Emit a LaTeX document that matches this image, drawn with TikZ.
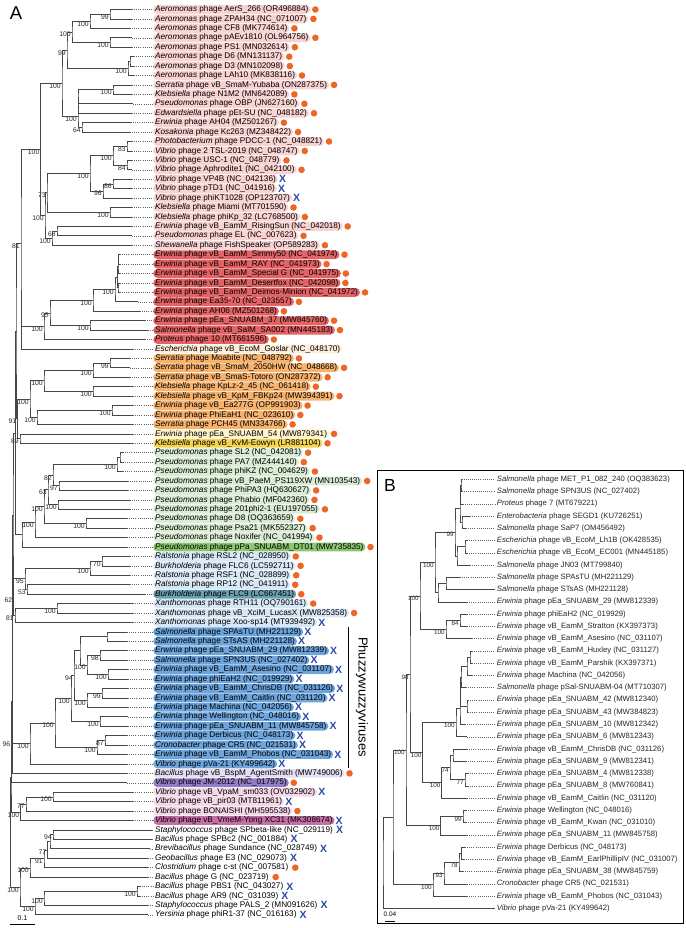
\documentclass[tikz,border=0pt]{standalone}
\usepackage{fontspec}
\setmainfont{Liberation Sans}
\usetikzlibrary{calc,positioning}

\definecolor{pkl}{RGB}{249,210,210}
\definecolor{rd}{RGB}{228,100,102}
\definecolor{pch}{RGB}{253,238,218}
\definecolor{org}{RGB}{247,178,110}
\definecolor{ylwl}{RGB}{254,244,206}
\definecolor{ylw}{RGB}{246,212,80}
\definecolor{grl}{RGB}{219,236,213}
\definecolor{grn}{RGB}{140,198,112}
\definecolor{bll}{RGB}{216,231,245}
\definecolor{tel}{RGB}{104,160,178}
\definecolor{blu}{RGB}{110,165,220}
\definecolor{lvl}{RGB}{230,222,242}
\definecolor{prp}{RGB}{146,126,198}
\definecolor{pkv}{RGB}{244,216,232}
\definecolor{mgt}{RGB}{196,112,164}
\definecolor{dotorg}{RGB}{238,102,38}
\definecolor{xblue}{RGB}{43,72,168}

\tikzset{
  br/.style={draw=black!72, line width=0.7pt},
  bs/.style={font=\fontsize{6.8}{7}\selectfont, text=black!85, anchor=east, inner sep=0pt, xshift=-1.2pt, yshift=-2.6pt},
  bsB/.style={bs, font=\fontsize{6.3}{7}\selectfont},
  lab/.style={anchor=west, font=\fontsize{8.2}{9}\selectfont, inner xsep=2pt, inner ysep=0pt,
    text height=6.1pt, text depth=1.8pt, minimum height=8.8pt, rounded corners=4.4pt},
  labB/.style={anchor=west, font=\fontsize{7.7}{9}\selectfont, inner xsep=1.7pt, inner ysep=0pt, text=black!85},
  leader/.style={draw=black!60, line width=0.5pt, dash pattern=on 0.6pt off 1.5pt},
  odot/.style={circle, fill=dotorg, minimum size=6.6pt, inner sep=0pt},
  xmk/.style={text=xblue, font=\fontsize{10.5}{10}\selectfont\bfseries, inner sep=0pt},
}

% clade: name, x, upper child, lower child, support
\newcommand{\clade}[5]{%
  \coordinate (tmp) at ($(#3)!0.5!(#4)$);
  \coordinate (#1) at (#2,0 |- tmp);
  \draw[br] (#3) -| (#1) |- (#4);
  \if\relax\detokenize{#5}\relax\else\node[bs] (#1b) at (#1) {#5};\fi
}
\newcommand{\cladeB}[5]{%
  \coordinate (tmp) at ($(#3)!0.5!(#4)$);
  \coordinate (#1) at (#2,0 |- tmp);
  \draw[br, line width=0.6pt] (#3) -| (#1) |- (#4);
  \if\relax\detokenize{#5}\relax\else\node[bsB] (#1b) at (#1) {#5};\fi
}
% leaf in A: row, tip x, fill, marker (o/x/n), genus, rest
\newcommand{\leafA}[6]{%
  \coordinate (t#1) at (#2,{9.5+(#1-1)*9.43});
  \node[lab, fill=#3] (a#1) at (153,{9.5+(#1-1)*9.43}) {\textit{#5} phage #6};
  \draw[leader] (t#1) -- (a#1.west);
  \if#4o\node[odot, right=1.3pt of a#1] (m#1) {};\fi
  \if#4x\node[xmk, right=0.8pt of a#1] (m#1) {X};\fi
}
% leaf in B: row, tip x, genus, rest
\newcommand{\leafB}[4]{%
  \coordinate (w#1) at (#2,{479.3+(#1-1)*12.26});
  \node[labB] (b#1) at (495,{479.3+(#1-1)*12.26}) {\textit{#3} phage #4};
  \draw[leader] (w#1) -- (b#1.west);
}

\begin{document}
\begin{tikzpicture}[x=1pt, y=-1pt]
\useasboundingbox (0,0) rectangle (685,928);

% ---------- panel A ----------
\node[font=\fontsize{18.5}{18}\selectfont, inner sep=0pt] (lblA) at (16,13.5) {A};

% leaves
\leafA{1}{132}{pkl}{o}{Aeromonas}{AerS\_266 (OR496884)}
\leafA{2}{132}{pkl}{o}{Aeromonas}{ZPAH34 (NC\_071007)}
\leafA{3}{130}{pkl}{o}{Aeromonas}{CF8 (MK774614)}
\leafA{4}{132}{pkl}{o}{Aeromonas}{pAEv1810 (OL964756)}
\leafA{5}{132}{pkl}{o}{Aeromonas}{PS1 (MN032614)}
\leafA{6}{134}{pkl}{o}{Aeromonas}{D6 (MN131137)}
\leafA{7}{134}{pkl}{o}{Aeromonas}{D3 (MN102098)}
\leafA{8}{134}{pkl}{o}{Aeromonas}{LAh10 (MK838116)}
\leafA{9}{132}{pkl}{o}{Serratia}{vB\_SmaM-Yubaba (ON287375)}
\leafA{10}{132}{pkl}{o}{Klebsiella}{N1M2 (MN642089)}
\leafA{11}{133}{pkl}{o}{Pseudomonas}{OBP (JN627160)}
\leafA{12}{132}{pkl}{o}{Edwardsiella}{pEt-SU (NC\_048182)}
\leafA{13}{131}{pkl}{o}{Erwinia}{AH04 (MZ501267)}
\leafA{14}{130}{pkl}{o}{Kosakonia}{Kc263 (MZ348422)}
\leafA{15}{132}{pkl}{o}{Photobacterium}{PDCC-1 (NC\_048821)}
\leafA{16}{132}{pkl}{o}{Vibrio}{2 TSL-2019 (NC\_048747)}
\leafA{17}{132}{pkl}{o}{Vibrio}{USC-1 (NC\_048779)}
\leafA{18}{132}{pkl}{o}{Vibrio}{Aphrodite1 (NC\_042100)}
\leafA{19}{132}{pkl}{x}{Vibrio}{VP4B (NC\_042136)}
\leafA{20}{132}{pkl}{x}{Vibrio}{pTD1 (NC\_041916)}
\leafA{21}{132}{pkl}{x}{Vibrio}{phiKT1028 (OP123707)}
\leafA{22}{132}{pkl}{o}{Klebsiella}{Miami (MT701590)}
\leafA{23}{132}{pkl}{o}{Klebsiella}{phiKp\_32 (LC768500)}
\leafA{24}{132}{pkl}{o}{Erwinia}{vB\_EamM\_RisingSun (NC\_042018)}
\leafA{25}{132}{pkl}{o}{Pseudomonas}{EL (NC\_007623)}
\leafA{26}{132}{pkl}{o}{Shewanella}{FishSpeaker (OP589283)}
\leafA{27}{120}{rd}{o}{Erwinia}{vB\_EamM\_Simmy50 (NC\_041974)}
\leafA{28}{120}{rd}{o}{Erwinia}{vB\_EamM\_RAY (NC\_041973)}
\leafA{29}{120}{rd}{o}{Erwinia}{vB\_EamM\_Special G (NC\_041975)}
\leafA{30}{120}{rd}{o}{Erwinia}{vB\_EamM\_Desertfox (NC\_042098)}
\leafA{31}{120}{rd}{o}{Erwinia}{vB\_EamM\_Deimos-Minion (NC\_041972)}
\leafA{32}{138}{rd}{o}{Erwinia}{Ea35-70 (NC\_023557)}
\leafA{33}{140}{rd}{o}{Erwinia}{AH06 (MZ501268)}
\leafA{34}{145}{rd}{o}{Erwinia}{pEa\_SNUABM\_37 (MW845760)}
\leafA{35}{148}{rd}{o}{Salmonella}{vB\_SalM\_SA002 (MN445183)}
\leafA{36}{145}{rd}{o}{Proteus}{10 (MT661596)}
\leafA{37}{133}{pch}{n}{Escherichia}{vB\_EcoM\_Goslar (NC\_048170)}
\leafA{38}{130}{org}{o}{Serratia}{Moabite (NC\_048792)}
\leafA{39}{130}{org}{o}{Serratia}{vB\_SmaM\_2050HW (NC\_048668)}
\leafA{40}{130}{org}{o}{Serratia}{vB\_SmaS-Totoro (ON287372)}
\leafA{41}{133}{org}{o}{Klebsiella}{KpLz-2\_45 (NC\_061418)}
\leafA{42}{133}{org}{o}{Klebsiella}{vB\_KpM\_FBKp24 (MW394391)}
\leafA{43}{133}{org}{o}{Erwinia}{vB\_Ea277G (OP991903)}
\leafA{44}{133}{org}{o}{Erwinia}{PhiEaH1 (NC\_023610)}
\leafA{45}{133}{org}{o}{Serratia}{PCH45 (MN334766)}
\leafA{46}{133}{ylwl}{o}{Erwinia}{pEa\_SNUABM\_54 (MW879341)}
\leafA{47}{133}{ylw}{o}{Klebsiella}{vB\_KvM-Eowyn (LR881104)}
\leafA{48}{123}{grl}{o}{Pseudomonas}{SL2 (NC\_042081)}
\leafA{49}{123}{grl}{o}{Pseudomonas}{PA7 (MZ444140)}
\leafA{50}{123}{grl}{o}{Pseudomonas}{phiKZ (NC\_004629)}
\leafA{51}{128}{grl}{o}{Pseudomonas}{vB\_PaeM\_PS119XW (MN103543)}
\leafA{52}{128}{grl}{o}{Pseudomonas}{PhiPA3 (HQ630627)}
\leafA{53}{130}{grl}{o}{Pseudomonas}{Phabio (MF042360)}
\leafA{54}{130}{grl}{o}{Pseudomonas}{201phi2-1 (EU197055)}
\leafA{55}{127}{grl}{o}{Pseudomonas}{D8 (OQ363659)}
\leafA{56}{127}{grl}{o}{Pseudomonas}{Psa21 (MK552327)}
\leafA{57}{127}{grl}{o}{Pseudomonas}{Noxifer (NC\_041994)}
\leafA{58}{127}{grn}{o}{Pseudomonas}{pPa\_SNUABM\_DT01 (MW735835)}
\leafA{59}{130}{bll}{o}{Ralstonia}{RSL2 (NC\_028950)}
\leafA{60}{130}{bll}{o}{Burkholderia}{FLC6 (LC592711)}
\leafA{61}{130}{bll}{o}{Ralstonia}{RSF1 (NC\_028899)}
\leafA{62}{130}{bll}{o}{Ralstonia}{RP12 (NC\_041911)}
\leafA{63}{145}{tel}{o}{Burkholderia}{FLC9 (LC667451)}
\leafA{64}{133}{bll}{o}{Xanthomonas}{RTH11 (OQ790161)}
\leafA{65}{133}{bll}{o}{Xanthomonas}{vB\_XciM\_LucasX (MW825358)}
\leafA{66}{133}{bll}{x}{Xanthomonas}{Xoo-sp14 (MT939492)}
\leafA{67}{127}{blu}{x}{Salmonella}{SPAsTU (MH221129)}
\leafA{68}{127}{blu}{x}{Salmonella}{STsAS (MH221128)}
\leafA{69}{127}{blu}{x}{Erwinia}{pEa\_SNUABM\_29 (MW812339)}
\leafA{70}{127}{blu}{x}{Salmonella}{SPN3US (NC\_027402)}
\leafA{71}{128}{blu}{x}{Erwinia}{vB\_EamM\_Asesino (NC\_031107)}
\leafA{72}{128}{blu}{x}{Erwinia}{phiEaH2 (NC\_019929)}
\leafA{73}{128}{blu}{x}{Erwinia}{vB\_EamM\_ChrisDB (NC\_031126)}
\leafA{74}{128}{blu}{x}{Erwinia}{vB\_EamM\_Caitlin (NC\_031120)}
\leafA{75}{128}{blu}{x}{Erwinia}{Machina (NC\_042056)}
\leafA{76}{128}{blu}{x}{Erwinia}{Wellington (NC\_048016)}
\leafA{77}{128}{blu}{x}{Erwinia}{pEa\_SNUABM\_11 (MW845758)}
\leafA{78}{127}{blu}{x}{Erwinia}{Derbicus (NC\_048173)}
\leafA{79}{127}{blu}{x}{Cronobacter}{CR5 (NC\_021531)}
\leafA{80}{127}{blu}{x}{Erwinia}{vB\_EamM\_Phobos (NC\_031043)}
\leafA{81}{127}{blu}{x}{Vibrio}{pVa-21 (KY499642)}
\leafA{82}{127}{lvl}{o}{Bacillus}{vB\_BspM\_AgentSmith (MW749006)}
\leafA{83}{127}{prp}{o}{Vibrio}{JM-2012 (NC\_017975)}
\leafA{84}{133}{pkv}{x}{Vibrio}{vB\_VpaM\_sm033 (OV032902)}
\leafA{85}{133}{pkv}{x}{Vibrio}{vB\_pir03 (MT811961)}
\leafA{86}{133}{pkv}{o}{Vibrio}{BONAISHI (MH595538)}
\leafA{87}{133}{mgt}{x}{Vibrio}{vB\_VmeM-Yong XC31 (MK308674)}
\leafA{88}{152}{none}{x}{Staphylococcus}{SPbeta-like (NC\_029119)}
\leafA{89}{152}{none}{x}{Bacillus}{SPBc2 (NC\_001884)}
\leafA{90}{150}{none}{x}{Brevibacillus}{Sundance (NC\_028749)}
\leafA{91}{148}{none}{x}{Geobacillus}{E3 (NC\_029073)}
\leafA{92}{148}{none}{o}{Clostridium}{c-st (NC\_007581)}
\leafA{93}{148}{none}{o}{Bacillus}{G (NC\_023719)}
\leafA{94}{140}{none}{x}{Bacillus}{PBS1 (NC\_043027)}
\leafA{95}{140}{none}{x}{Bacillus}{AR9 (NC\_031039)}
\leafA{96}{148}{none}{x}{Staphylococcus}{PALS\_2 (MN091626)}
\leafA{97}{148}{none}{x}{Yersinia}{phiR1-37 (NC\_016163)}

% Aeromonas and relatives
\clade{n1}{110}{t1}{t2}{99}
\clade{n2}{90}{n1}{t3}{100}
\clade{n3}{110}{t4}{t5}{100}
\clade{n4}{72}{n2}{n3}{100}
\clade{n5}{130}{t6}{t7}{}
\clade{n6}{128}{n5}{t8}{100}
\clade{n7}{67}{n4}{n6}{99}
\clade{n8}{113}{t9}{t10}{100}
\clade{n9}{78}{n8}{t11}{}
\clade{n10}{78}{n9}{t12}{}
\clade{n12}{82}{t13}{t14}{64}
\clade{n13}{78}{n10}{n12}{100}
\clade{n14}{62}{n7}{n13}{100}
% Vibrio and relatives
\clade{n15}{127}{t15}{t16}{83}
\clade{n16}{127}{t17}{t18}{84}
\clade{n17}{113}{n15}{n16}{100}
\clade{n18}{113}{t19}{t20}{86}
\clade{n19}{103}{n18}{t21}{96}
\clade{n20}{90}{n17}{n19}{100}
\clade{n21}{110}{t22}{t23}{100}
\clade{n22}{47}{n20}{n21}{73}
\clade{n23}{57}{t24}{t25}{68}
\clade{n24}{52}{n23}{t26}{100}
\clade{n25}{45}{n22}{n24}{100}
\clade{n26}{40.7}{n14}{n25}{100}
% red Erwinia group
\clade{e1}{118.5}{t27}{t28}{}
\clade{e2}{118}{e1}{t29}{}
\clade{e3}{118}{t30}{t31}{}
\clade{e4}{117.5}{e2}{e3}{}
\clade{e5}{115}{e4}{t32}{100}
\clade{e6}{93}{e5}{t33}{100}
\clade{e7}{90}{t34}{t35}{100}
\clade{e8}{50}{e6}{e7}{95}
\clade{e9}{44}{e8}{t36}{100}
\clade{q1}{21.7}{e9}{t37}{}
\clade{p1}{21}{n26}{q1}{81}
% orange and yellow
\clade{o1}{110}{t38}{t39}{99}
\clade{o2}{93}{o1}{t40}{100}
\clade{o3}{93}{t41}{t42}{100}
\clade{o4}{44}{o2}{o3}{100}
\clade{o5}{112}{t43}{t44}{100}
\clade{o6}{37}{o5}{t45}{100}
\clade{o7}{30}{o4}{o6}{100}
\clade{y1}{20}{t46}{t47}{89}
\clade{y2}{17.5}{o7}{y1}{91}
% Pseudomonas
\clade{s1}{120}{t48}{t49}{}
\clade{s2}{117}{s1}{t50}{100}
\clade{s3}{59}{t51}{t52}{97}
\clade{s4}{53}{s2}{s3}{82}
\clade{s5}{58}{t53}{t54}{100}
\clade{s6}{48}{s4}{s5}{63}
\clade{s7}{86}{t55}{t56}{100}
\clade{s8}{44}{s6}{s7}{100}
\clade{s9}{35}{s8}{t57}{100}
\clade{s10}{22}{s9}{t58}{}
% Ralstonia, Burkholderia, Xanthomonas
\clade{r1}{102}{t59}{t60}{70}
\clade{r2}{90}{r1}{t61}{100}
\clade{r3}{27}{t62}{t63}{53}
\clade{r4}{25}{r2}{r3}{95}
\clade{x1}{57}{t64}{t65}{100}
\clade{x2}{15}{x1}{t66}{81}
\clade{r5}{13.5}{r4}{x2}{62}
% phuzzywuzzyviruses
\clade{f1}{107}{t67}{t68}{}
\clade{f2}{100}{t69}{t70}{98}
\clade{f3}{108}{t71}{t72}{100}
\clade{f4}{87}{f2}{f3}{100}
\clade{f5}{80}{f1}{f4}{}
\clade{f6}{102}{t73}{t74}{99}
\clade{f7}{87}{f6}{t75}{100}
\clade{f8}{74}{f5}{f7}{94}
\clade{f9}{100}{t76}{t77}{100}
\clade{f10}{71}{f8}{f9}{100}
\clade{f11}{105}{t78}{t79}{87}
\clade{f12}{97}{f11}{t80}{100}
\clade{f13}{55}{f10}{f12}{100}
\clade{f14}{30}{f13}{t81}{100}
% Vibrio (lower)
\clade{v1}{53}{t84}{t85}{100}
\clade{v2}{26}{v1}{t86}{77}
\clade{v3}{20.5}{v2}{t87}{100}
% Bacillus and outgroup
\clade{c1}{53}{t88}{t89}{94}
\clade{c2}{50}{c1}{t90}{}
\clade{c3}{47.5}{c2}{t91}{77}
\clade{c4}{44}{c3}{t92}{91}
\clade{c5}{30}{c4}{t93}{100}
\clade{c6}{137}{t94}{t95}{100}
\clade{c7}{44}{c6}{t96}{100}
\clade{c8}{35}{c7}{t97}{100}
\clade{c9}{20}{c5}{c8}{100}
% backbone
\clade{k1}{16}{p1}{y2}{}
\clade{k2}{15.5}{k1}{s10}{}
\clade{k3}{13}{k2}{r5}{}
\clade{k4}{12.5}{k3}{f14}{}
\clade{k5}{12}{k4}{t82}{}
\clade{k6}{11.5}{k5}{t83}{96}
\clade{k7}{11}{k6}{v3}{}
\clade{k8}{10.5}{k7}{c9}{}

% scale bar A
\coordinate (sa1) at (10,924);
\coordinate (sa2) at (35,924);
\draw[black, line width=0.8pt] (sa1) -- (sa2);
\node[font=\fontsize{7}{7}\selectfont, inner sep=0pt] (sclA) at (22.5,918) {0.1};

% bracket
\coordinate (pz1) at (348,627);
\coordinate (pz2) at (348,768);
\draw[black, line width=0.9pt] (pz1) -- (pz2);
\node[rotate=-90, font=\fontsize{13}{13}\selectfont, inner sep=0pt] (phz) at (362,697) {Phuzzywuzzyviruses};

% ---------- panel B ----------
\draw[black, line width=1.1pt] (377.5,470.5) rectangle (683.5,923.5);
\node[font=\fontsize{17.5}{17}\selectfont, inner sep=0pt] (lblB) at (390,485) {B};

\leafB{1}{461.5}{Salmonella}{MET\_P1\_082\_240 (OQ383623)}
\leafB{2}{462}{Salmonella}{SPN3US (NC\_027402)}
\leafB{3}{463}{Proteus}{7 (MT679221)}
\leafB{4}{470}{Enterobacteria}{SEGD1 (KU726251)}
\leafB{5}{466}{Salmonella}{SaP7 (OM456492)}
\leafB{6}{467}{Escherichia}{vB\_EcoM\_Lh1B (OK428535)}
\leafB{7}{467}{Escherichia}{vB\_EcoM\_EC001 (MN445185)}
\leafB{8}{470}{Salmonella}{JN03 (MT799840)}
\leafB{9}{460}{Salmonella}{SPAsTU (MH221129)}
\leafB{10}{495}{Salmonella}{STsAS (MH221128)}
\leafB{11}{467}{Erwinia}{pEa\_SNUABM\_29 (MW812339)}
\leafB{12}{467}{Erwinia}{phiEaH2 (NC\_019929)}
\leafB{13}{467}{Erwinia}{vB\_EamM\_Stratton (KX397373)}
\leafB{14}{472}{Erwinia}{vB\_EamM\_Asesino (NC\_031107)}
\leafB{15}{472}{Erwinia}{vB\_EamM\_Huxley (NC\_031127)}
\leafB{16}{472}{Erwinia}{vB\_EamM\_Parshik (KX397371)}
\leafB{17}{472}{Erwinia}{Machina (NC\_042056)}
\leafB{18}{466}{Salmonella}{pSal-SNUABM-04 (MT710307)}
\leafB{19}{468}{Erwinia}{pEa\_SNUABM\_42 (MW812340)}
\leafB{20}{468}{Erwinia}{pEa\_SNUABM\_43 (MW384823)}
\leafB{21}{465}{Erwinia}{pEa\_SNUABM\_10 (MW812342)}
\leafB{22}{467}{Erwinia}{pEa\_SNUABM\_6 (MW812343)}
\leafB{23}{467}{Erwinia}{vB\_EamM\_ChrisDB (NC\_031126)}
\leafB{24}{466}{Erwinia}{pEa\_SNUABM\_9 (MW812341)}
\leafB{25}{468}{Erwinia}{pEa\_SNUABM\_4 (MW812338)}
\leafB{26}{468}{Erwinia}{pEa\_SNUABM\_8 (MW760841)}
\leafB{27}{467}{Erwinia}{vB\_EamM\_Caitlin (NC\_031120)}
\leafB{28}{466}{Erwinia}{Wellington (NC\_048016)}
\leafB{29}{466}{Erwinia}{vB\_EamM\_Kwan (NC\_031010)}
\leafB{30}{467}{Erwinia}{pEa\_SNUABM\_11 (MW845758)}
\leafB{31}{465}{Erwinia}{Derbicus (NC\_048173)}
\leafB{32}{464}{Erwinia}{vB\_EamM\_EarlPhillipIV (NC\_031007)}
\leafB{33}{463}{Erwinia}{pEa\_SNUABM\_38 (MW845759)}
\leafB{34}{467}{Cronobacter}{CR5 (NC\_021531)}
\leafB{35}{467}{Erwinia}{vB\_EamM\_Phobos (NC\_031043)}
\leafB{36}{495}{Vibrio}{pVa-21 (KY499642)}

\cladeB{u1}{461}{w1}{w2}{}
\cladeB{u2}{460.5}{u1}{w3}{}
\cladeB{u3}{462}{w4}{w5}{}
\cladeB{u4}{460}{u2}{u3}{}
\cladeB{u5}{465}{w6}{w7}{}
\cladeB{u6}{457}{u5}{w8}{}
\cladeB{u7}{455}{u4}{u6}{99}
\cladeB{u8}{446}{w9}{w10}{}
\cladeB{u9}{438}{u8}{w11}{}
\cladeB{u10}{435}{u7}{u9}{100}
\cladeB{u11}{460}{w12}{w13}{84}
\cladeB{u12}{446}{u11}{w14}{100}
\cladeB{u13}{420}{u10}{u12}{100}
\cladeB{u14}{470}{w15}{w16}{}
\cladeB{u15}{467}{u14}{w17}{}
\cladeB{u16}{467}{w19}{w20}{}
\cladeB{u17}{461}{u15}{w18}{}
\cladeB{u18}{460.5}{u17}{u16}{}
\cladeB{u19}{460}{u18}{w21}{}
\cladeB{u20}{456}{u19}{w22}{100}
\cladeB{u21}{453}{w23}{w24}{}
\cladeB{u22}{465}{w25}{w26}{77}
\cladeB{u23}{450}{u21}{u22}{74}
\cladeB{u24}{441.7}{u23}{w27}{100}
\cladeB{u25}{422.7}{u20}{u24}{100}
\cladeB{u26}{410}{u13}{u25}{98}
\cladeB{u27}{463}{w28}{w29}{99}
\cladeB{u28}{440.7}{u27}{w30}{100}
\cladeB{u29}{406}{u26}{u28}{100}
\cladeB{u30}{461.7}{w31}{w32}{}
\cladeB{u31}{459}{u30}{w33}{78}
\cladeB{u32}{444}{u31}{w34}{93}
\cladeB{u33}{433}{u32}{w35}{100}
\cladeB{u34}{393}{u29}{u33}{}
\cladeB{u35}{383}{u34}{w36}{}

% scale bar B
\coordinate (sb1) at (385,921.5);
\coordinate (sb2) at (395,921.5);
\draw[black, line width=0.8pt] (sb1) -- (sb2);
\node[font=\fontsize{6.5}{7}\selectfont, inner sep=0pt] (sclB) at (390,914.5) {0.04};
\end{tikzpicture}
\end{document}
